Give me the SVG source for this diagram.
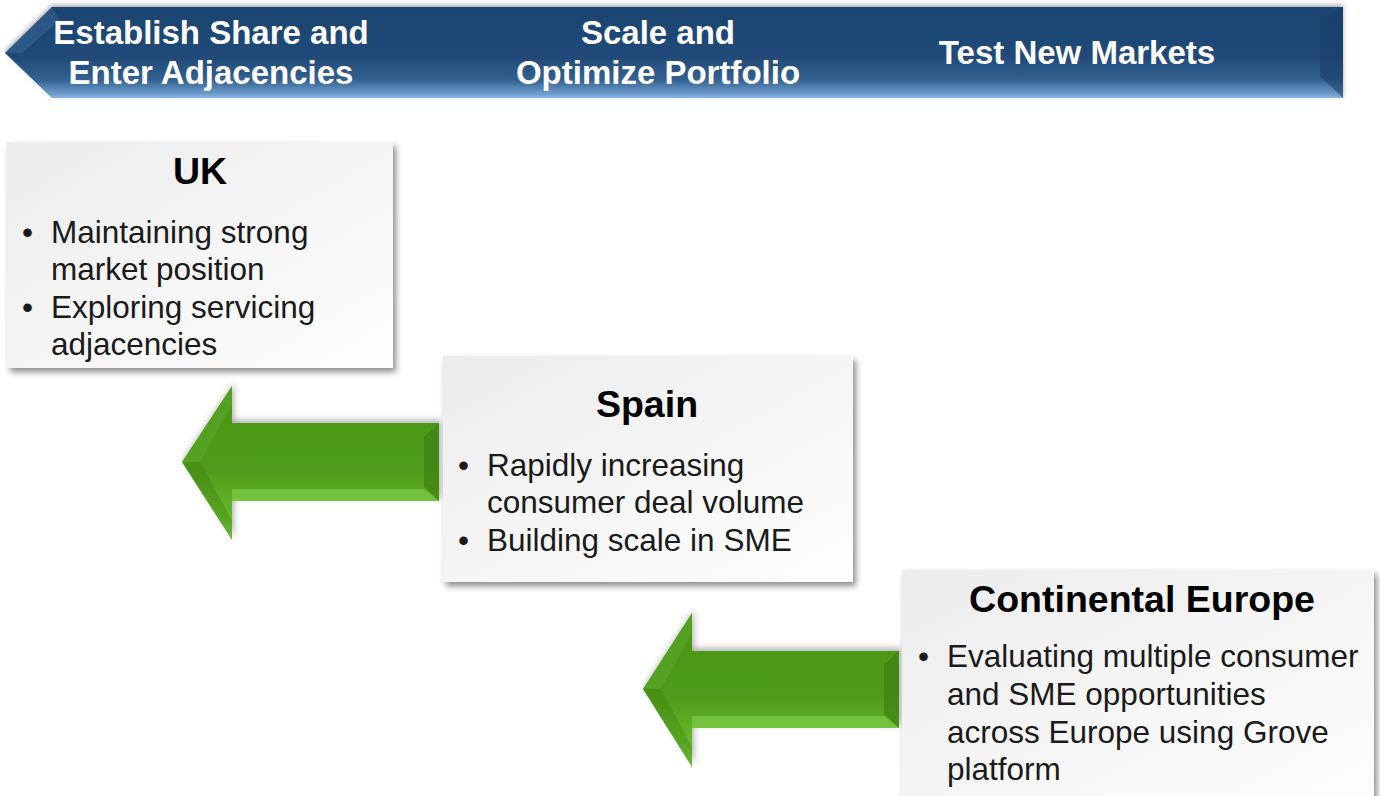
<svg xmlns="http://www.w3.org/2000/svg" width="1380" height="796" viewBox="0 0 1380 796">
<defs>
<linearGradient id="bannerGrad" x1="0" y1="0" x2="0" y2="1">
<stop offset="0" stop-color="#1d4470"/>
<stop offset="0.55" stop-color="#204a78"/>
<stop offset="0.8" stop-color="#33618f"/>
<stop offset="0.95" stop-color="#6b9acb"/>
<stop offset="1" stop-color="#8ab4de"/>
</linearGradient>
<linearGradient id="boxGrad" x1="0" y1="0" x2="1" y2="1">
<stop offset="0" stop-color="#ececec"/>
<stop offset="1" stop-color="#fefefe"/>
</linearGradient>
<linearGradient id="greenGrad" x1="0" y1="0" x2="0" y2="1">
<stop offset="0" stop-color="#4a9618"/>
<stop offset="0.55" stop-color="#4f9c1a"/>
<stop offset="0.85" stop-color="#68b92c"/>
<stop offset="1" stop-color="#86d654"/>
</linearGradient>
<filter id="shadow" x="-10%" y="-10%" width="125%" height="130%">
<feDropShadow dx="3" dy="4" stdDeviation="3" flood-color="#000" flood-opacity="0.45"/>
</filter>
<filter id="bshadow" x="-5%" y="-20%" width="110%" height="150%">
<feDropShadow dx="0" dy="-2" stdDeviation="2.5" flood-color="#000" flood-opacity="0.35"/>
</filter>
<filter id="ashadow" x="-10%" y="-10%" width="125%" height="130%">
<feDropShadow dx="2" dy="-3" stdDeviation="3" flood-color="#000" flood-opacity="0.3"/>
</filter>
</defs>
<style>
.bt{font-family:"Liberation Sans",Arial,sans-serif;font-weight:bold;font-size:33px;fill:#ffffff;text-anchor:middle}
.ti{font-family:"Liberation Sans",Arial,sans-serif;font-weight:bold;font-size:37.5px;fill:#000000;text-anchor:middle}
.tx{font-family:"Liberation Sans",Arial,sans-serif;font-size:31.5px;fill:#1a1a1a}
.box{fill:url(#boxGrad);filter:url(#shadow)}
</style>
<rect width="1380" height="796" fill="#ffffff"/>

<g id="banner">
<polygon points="5,53 52,7 1343,7 1343,98 52,98" fill="url(#bannerGrad)" filter="url(#bshadow)"/>
<polygon points="1343,7 1343,98 1320,76 1320,20" fill="#1a3d66" opacity="0.6"/>
<polygon points="5,53 52,7 60,20 22,53" fill="#3a6a9a" opacity="0.5"/>
<text class="bt" x="211" y="44">Establish Share and</text>
<text class="bt" x="211" y="84">Enter Adjacencies</text>
<text class="bt" x="658" y="44">Scale and</text>
<text class="bt" x="658" y="84">Optimize Portfolio</text>
<text class="bt" x="1077" y="64">Test New Markets</text>
</g>

<g id="connectors">
<g id="arrow1" filter="url(#ashadow)">
<polygon points="182,462 232,386 232,423 439,423 439,501 232,501 232,540" fill="url(#greenGrad)"/>
<polygon points="439,423 439,501 424,487 424,437" fill="#3f8012" opacity="0.7"/>
<polygon points="232,501 439,501 424,489 232,489" fill="#96e564" opacity="0.4"/>
<polygon points="182,462 232,386 232,405 200,462" fill="#5aa82a" opacity="0.5"/>
<polygon points="182,462 200,462 232,520 232,540" fill="#3d7d12" opacity="0.35"/>
</g>
<g id="arrow2" filter="url(#ashadow)">
<polygon points="643,689 692,613 692,651 899,651 899,728 692,728 692,767" fill="url(#greenGrad)"/>
<polygon points="899,651 899,728 884,714 884,665" fill="#3f8012" opacity="0.7"/>
<polygon points="692,728 899,728 884,716 692,716" fill="#96e564" opacity="0.4"/>
<polygon points="643,689 692,613 692,632 661,689" fill="#5aa82a" opacity="0.5"/>
<polygon points="643,689 661,689 692,747 692,767" fill="#3d7d12" opacity="0.35"/>
</g>
</g>

<g id="uk">
<rect class="box" x="7" y="142" width="386" height="226"/>
<text class="ti" x="200" y="184">UK</text>
<text class="tx" x="22" y="243">•</text>
<text class="tx" x="51" y="243">Maintaining strong</text>
<text class="tx" x="51" y="280">market position</text>
<text class="tx" x="22" y="318">•</text>
<text class="tx" x="51" y="318">Exploring servicing</text>
<text class="tx" x="51" y="355">adjacencies</text>
</g>

<g id="spain">
<rect class="box" x="443" y="356" width="410" height="226"/>
<text class="ti" x="647" y="417">Spain</text>
<text class="tx" x="458" y="476">•</text>
<text class="tx" x="487" y="476">Rapidly increasing</text>
<text class="tx" x="487" y="513">consumer deal volume</text>
<text class="tx" x="458" y="551">•</text>
<text class="tx" x="487" y="551">Building scale in SME</text>
</g>

<g id="continental">
<rect class="box" x="902" y="570" width="472" height="240"/>
<text class="ti" x="1142" y="612">Continental Europe</text>
<text class="tx" x="918" y="667">•</text>
<text class="tx" x="947" y="667">Evaluating multiple consumer</text>
<text class="tx" x="947" y="705">and SME opportunities</text>
<text class="tx" x="947" y="743">across Europe using Grove</text>
<text class="tx" x="947" y="780">platform</text>
</g>
</svg>
